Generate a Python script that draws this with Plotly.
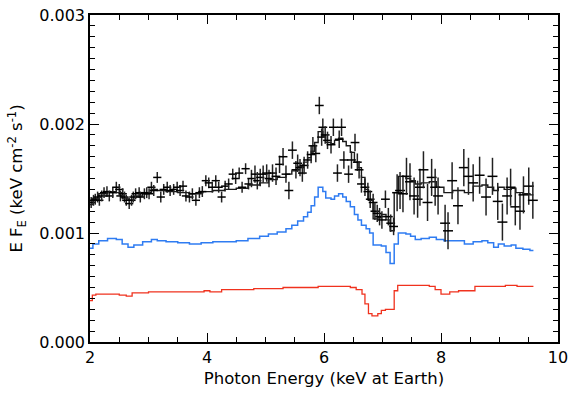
import plotly.graph_objects as go

# ---- observed data points (keV, E*F_E) ----
data_E = [2.02, 2.06, 2.09, 2.13, 2.16, 2.20, 2.24, 2.29, 2.33, 2.39, 2.45, 2.50, 2.52, 2.56,
          2.59, 2.62, 2.67, 2.71, 2.74, 2.78, 2.84, 2.86, 2.93, 2.97, 3.01, 3.05, 3.09, 3.15,
          3.21, 3.26, 3.32, 3.37, 3.43, 3.49, 3.54, 3.59, 3.64, 3.70, 3.75, 3.81, 3.87, 3.92,
          3.98, 4.03, 4.09, 4.15, 4.20, 4.25, 4.31, 4.37, 4.44, 4.49, 4.55, 4.60, 4.66, 4.71,
          4.76, 4.82, 4.86, 4.91, 4.96, 5.02, 5.06, 5.12, 5.18, 5.24, 5.30, 5.35, 5.40, 5.46,
          5.52, 5.55, 5.59, 5.63, 5.66, 5.72, 5.78, 5.81, 5.86, 5.92, 5.96, 5.98, 6.02, 6.06,
          6.12, 6.16, 6.23, 6.26, 6.30, 6.34, 6.42, 6.47, 6.53, 6.57, 6.60, 6.64, 6.70, 6.75,
          6.79, 6.84, 6.87, 6.91, 6.95, 6.99, 7.05, 7.10, 7.14, 7.19, 7.25, 7.30, 7.35, 7.41,
          7.47, 7.54, 7.60, 7.64, 7.70, 7.77, 7.84, 7.90, 7.95, 8.07, 8.12, 8.19, 8.29, 8.39,
          8.47, 8.55, 8.66, 8.77, 8.88, 8.97, 9.05, 9.13, 9.19, 9.27, 9.35, 9.41, 9.50, 9.57]
data_F = [0.00128, 0.00130, 0.00131, 0.00133, 0.00130, 0.00134, 0.00137, 0.00138, 0.00134, 0.00137,
          0.00142, 0.00140, 0.00134, 0.00136, 0.00133, 0.00130, 0.00127, 0.00130, 0.00133, 0.00136,
          0.00137, 0.00133, 0.00136, 0.00137, 0.00136, 0.00142, 0.00139, 0.00151, 0.00133, 0.00140,
          0.00142, 0.00139, 0.00140, 0.00142, 0.00139, 0.00143, 0.00134, 0.00133, 0.00136, 0.00130,
          0.00137, 0.00138, 0.00148, 0.00146, 0.00142, 0.00148, 0.00142, 0.00133, 0.00143, 0.00145,
          0.00154, 0.00150, 0.00155, 0.00142, 0.00159, 0.00145, 0.00150, 0.00154, 0.00148, 0.00151,
          0.00154, 0.00155, 0.00150, 0.00155, 0.00152, 0.00163, 0.00170, 0.00154, 0.00139, 0.00176,
          0.00158, 0.00164, 0.00160, 0.00155, 0.00162, 0.00167, 0.00172, 0.00180, 0.00173, 0.00217,
          0.00188, 0.00197, 0.00190, 0.00185, 0.00181, 0.00197, 0.00155, 0.00186, 0.00197, 0.00167,
          0.00154, 0.00167, 0.00183, 0.00165, 0.00158, 0.00145, 0.00142, 0.00138, 0.00131, 0.00128,
          0.00120, 0.00118, 0.00115, 0.00112, 0.00131, 0.00115, 0.00109, 0.00106, 0.00137, 0.00139,
          0.00136, 0.00152, 0.00147, 0.00134, 0.00131, 0.00142, 0.00158, 0.00128, 0.00151, 0.00142,
          0.00134, 0.00109, 0.00102, 0.00148, 0.00125, 0.00160, 0.00152, 0.00146, 0.00153, 0.00133,
          0.00152, 0.00129, 0.00110, 0.00134, 0.00142, 0.00124, 0.00120, 0.00135, 0.00143, 0.00130]
# half-widths of the energy bins and 1-sigma flux errors
data_Eerr = ([0.07] * 60) + ([0.075] * 48) + ([0.085] * 32)
data_Ferr = ([0.00005] * 56) + ([0.00008] * 52) + ([0.00017] * 32)

# ---- total model (step function: bin left edges + final edge) ----
model_edges = [2.00, 2.05, 2.15, 2.30, 2.45, 2.55, 2.65, 2.75, 2.90, 3.05, 3.15, 3.30, 3.50,
               3.70, 3.90, 4.10, 4.30, 4.50, 4.70, 4.90, 5.05, 5.20, 5.35, 5.45, 5.55, 5.65,
               5.72, 5.78, 5.84, 5.90, 5.98, 6.03, 6.12, 6.18, 6.25, 6.32, 6.38, 6.45, 6.52,
               6.58, 6.64, 6.70, 6.76, 6.84, 6.92, 6.98, 7.06, 7.13, 7.20, 7.27, 7.40, 7.48,
               7.56, 7.66, 7.80, 7.92, 8.05, 8.20, 8.40, 8.55, 8.70, 8.80, 8.90, 8.98, 9.08,
               9.20, 9.28, 9.40, 9.52, 9.58]
model_F = [0.00126, 0.00132, 0.00136, 0.00138, 0.00137, 0.00132, 0.00130, 0.00134, 0.00137,
           0.00140, 0.00139, 0.00138, 0.00137, 0.00136, 0.00138, 0.00139, 0.00140, 0.00141,
           0.00144, 0.00146, 0.00149, 0.00151, 0.00154, 0.00157, 0.00161, 0.00165, 0.00169,
           0.00175, 0.00183, 0.00193, 0.00189, 0.00183, 0.00182, 0.00185, 0.00187, 0.00184,
           0.00180, 0.00174, 0.00165, 0.00160, 0.00151, 0.00140, 0.00130, 0.00113, 0.00114,
           0.00117, 0.00112, 0.00102, 0.00137, 0.00152, 0.00150, 0.00148, 0.00145, 0.00146,
           0.00147, 0.00142, 0.00137, 0.00139, 0.00137, 0.00143, 0.00144, 0.00142, 0.00139,
           0.00142, 0.00140, 0.00141, 0.00137, 0.00136, 0.00135]

# ---- blue component ----
blue_edges = [2.00, 2.05, 2.15, 2.30, 2.45, 2.55, 2.65, 2.75, 2.90, 3.05, 3.15, 3.30, 3.50,
              3.70, 3.90, 4.10, 4.30, 4.50, 4.70, 4.90, 5.05, 5.20, 5.35, 5.45, 5.55, 5.65,
              5.72, 5.78, 5.84, 5.90, 5.98, 6.03, 6.12, 6.18, 6.25, 6.32, 6.38, 6.45, 6.52,
              6.58, 6.64, 6.72, 6.78, 6.84, 6.98, 7.06, 7.13, 7.20, 7.27, 7.40, 7.48, 7.56,
              7.66, 7.80, 7.92, 8.05, 8.20, 8.40, 8.55, 8.70, 8.80, 8.90, 8.98, 9.08, 9.20,
              9.28, 9.40, 9.52, 9.58]
blue_F = [0.00086, 0.00090, 0.00093, 0.00095, 0.00094, 0.00090, 0.00087, 0.00089, 0.00092,
          0.00094, 0.00093, 0.00092, 0.00091, 0.00090, 0.00091, 0.00092, 0.00092, 0.00093,
          0.00095, 0.00097, 0.00099, 0.00101, 0.00104, 0.00107, 0.00111, 0.00115, 0.00119,
          0.00125, 0.00133, 0.00142, 0.00138, 0.00132, 0.00131, 0.00134, 0.00136, 0.00133,
          0.00129, 0.00124, 0.00117, 0.00112, 0.00107, 0.00104, 0.00100, 0.00089, 0.00088,
          0.00082, 0.00072, 0.00090, 0.00100, 0.00099, 0.00097, 0.00094, 0.00095, 0.00096,
          0.00094, 0.00093, 0.00093, 0.00090, 0.00092, 0.00093, 0.00091, 0.00087, 0.00090,
          0.00088, 0.00089, 0.00086, 0.00085, 0.00084]

# ---- red component ----
red_edges = [2.00, 2.04, 2.10, 2.50, 2.62, 2.72, 3.00, 3.50, 3.95, 4.05, 4.25, 4.80, 5.30,
             5.90, 6.45, 6.55, 6.65, 6.70, 6.76, 6.82, 6.92, 6.98, 7.05, 7.20, 7.26, 7.80,
             7.90, 8.00, 8.15, 8.30, 8.58, 9.10, 9.30, 9.58]
red_F = [0.00038, 0.00043, 0.00044, 0.00043, 0.00042, 0.00045, 0.00046, 0.00046, 0.00047,
         0.00046, 0.00048, 0.00049, 0.00050, 0.00051, 0.00050, 0.00048, 0.00044, 0.00035,
         0.00026, 0.00024, 0.00026, 0.00029, 0.00030, 0.00047, 0.00052, 0.00051, 0.00048,
         0.00044, 0.00046, 0.00047, 0.00051, 0.00052, 0.00051]

x_ticks = [2, 4, 6, 8, 10]
x_ticklabels = ["2", "4", "6", "8", "10"]
y_ticks = [0.000, 0.001, 0.002, 0.003]
y_ticklabels = ["0.000", "0.001", "0.002", "0.003"]

FONT = "DejaVu Sans"


def step_xy(edges, vals):
    return list(edges), list(vals) + [vals[-1]]


fig = go.Figure()

rx, ry = step_xy(red_edges, red_F)
fig.add_trace(go.Scatter(x=rx, y=ry, mode="lines", line=dict(color="#f0321e", width=1.3, shape="hv"),
                         hoverinfo="skip", showlegend=False))
bx, by = step_xy(blue_edges, blue_F)
fig.add_trace(go.Scatter(x=bx, y=by, mode="lines", line=dict(color="#2f7cf2", width=1.5, shape="hv"),
                         hoverinfo="skip", showlegend=False))
mx, my = step_xy(model_edges, model_F)
fig.add_trace(go.Scatter(x=mx, y=my, mode="lines", line=dict(color="#1a1a1a", width=1.4, shape="hv"),
                         hoverinfo="skip", showlegend=False))
fig.add_trace(go.Scatter(
    x=data_E, y=data_F, mode="markers",
    marker=dict(size=1, color="black"),
    error_x=dict(type="data", array=data_Eerr, width=0, thickness=1.5, color="black"),
    error_y=dict(type="data", array=data_Ferr, width=0, thickness=1.5, color="#222222"),
    showlegend=False))

axis_common = dict(showline=True, linecolor="black", linewidth=1.5, mirror="allticks",
                   ticks="inside", ticklen=9, tickwidth=1.2, tickcolor="black",
                   showgrid=False, zeroline=False, ticklabeloverflow="allow",
                   tickfont=dict(family=FONT, size=16, color="black"))

fig.update_xaxes(range=[2, 10.00001], tickvals=x_ticks, ticktext=x_ticklabels,
                 minor=dict(dtick=0.5, ticklen=5, ticks="inside", tickcolor="black", tickwidth=1.1),
                 title=dict(text="Photon Energy (keV at Earth)", font=dict(family=FONT, size=16.5, color="black"),
                            standoff=6),
                 **axis_common)
fig.update_yaxes(range=[0, 0.0030001], tickvals=y_ticks, ticktext=y_ticklabels,
                 minor=dict(dtick=0.0001, ticklen=5, ticks="inside", tickcolor="black", tickwidth=1.1),
                 title=dict(text="E F<sub>E</sub> (keV cm<sup>-2</sup> s<sup>-1</sup>)",
                            font=dict(family=FONT, size=16.5, color="black"), standoff=12),
                 **axis_common)

fig.update_layout(width=574, height=393, margin=dict(l=90, r=11, t=6, b=51),
                  plot_bgcolor="white", paper_bgcolor="white",
                  font=dict(family=FONT, color="black"))

fig.write_html("out.html")
